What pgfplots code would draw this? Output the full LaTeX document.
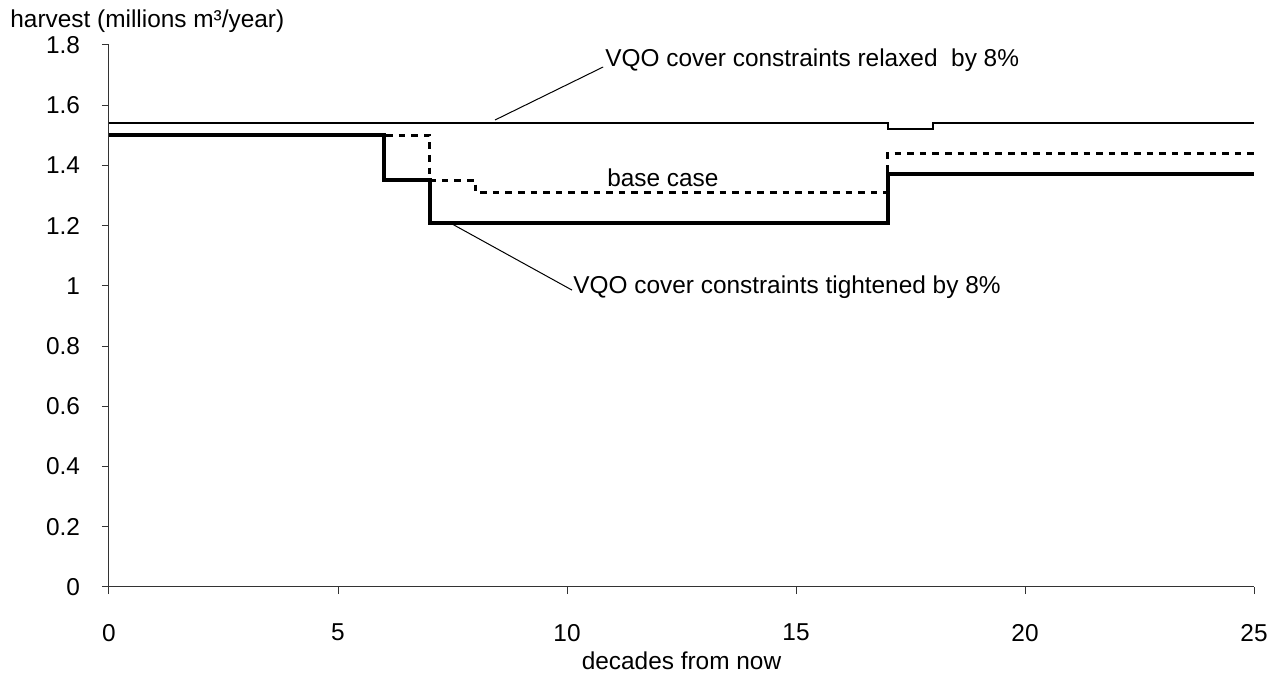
\documentclass[border=0pt]{standalone}
\usepackage{fontspec}
\setmainfont{Liberation Sans}
\usepackage{pgfplots}
\pgfplotsset{compat=1.18}

\begin{document}
\begin{tikzpicture}[font=\fontsize{12.2}{14.5}\selectfont]
\begin{axis}[
  scale only axis,
  width=572.5pt, height=271pt,
  xmin=0, xmax=25, ymin=0, ymax=1.8,
  xtick={0,5,10,15,20,25},
  ytick={0,0.2,0.4,0.6,0.8,1,1.2,1.4,1.6,1.8},
  axis x line*=bottom, axis y line*=left,
  axis line style={-, line width=0.5pt, black!80},
  tick align=outside,
  major tick length=3.5pt,
  tick style={line width=0.5pt, black!80},
  /pgf/number format/assume math mode=true,
  xticklabel style={yshift=-11.5pt},
  yticklabel style={xshift=-7.5pt},
  xlabel={decades from now},
  xlabel style={at={(axis description cs:0.5,0)}, anchor=center, yshift=-37pt},
  clip=false,
]
% relaxed VQO cover constraints
\addplot[const plot, black, line width=1pt] coordinates {
  (0,1.54) (17,1.52) (18,1.54) (25,1.54)
};
% base case
\addplot[const plot, black, line width=1.5pt, dash pattern=on 3.3pt off 3pt] coordinates {
  (0,1.50) (7,1.35) (8,1.31) (17,1.44) (25,1.44)
};
% tightened VQO cover constraints
\addplot[const plot, black, line width=2pt] coordinates {
  (0,1.50) (6,1.35) (7,1.21) (17,1.37) (25,1.37)
};

% labels with leader lines
\draw[line width=0.5pt] (axis cs:8.43,1.551) -- (axis cs:10.79,1.727);
\node[anchor=west, inner sep=0pt] at (axis cs:10.83,1.750) {VQO cover constraints relaxed\ \ by 8\%};
\node[anchor=west, inner sep=0pt] at (axis cs:10.87,1.358) {base case};
\draw[line width=0.5pt] (axis cs:7.45,1.209) -- (axis cs:10.11,0.986);
\node[anchor=west, inner sep=0pt] at (axis cs:10.13,0.996) {VQO cover constraints tightened by 8\%};

\node[anchor=west, inner sep=0pt] at ([xshift=-49.5pt, yshift=12pt]rel axis cs:0,1) {harvest (millions m³/year)};
\coordinate (O) at (rel axis cs:0,0);
\end{axis}
\pgfresetboundingbox
\path ([shift={(-54.5pt,-46pt)}]O) rectangle ++(636.5pt,339.5pt);
\end{tikzpicture}
\end{document}
